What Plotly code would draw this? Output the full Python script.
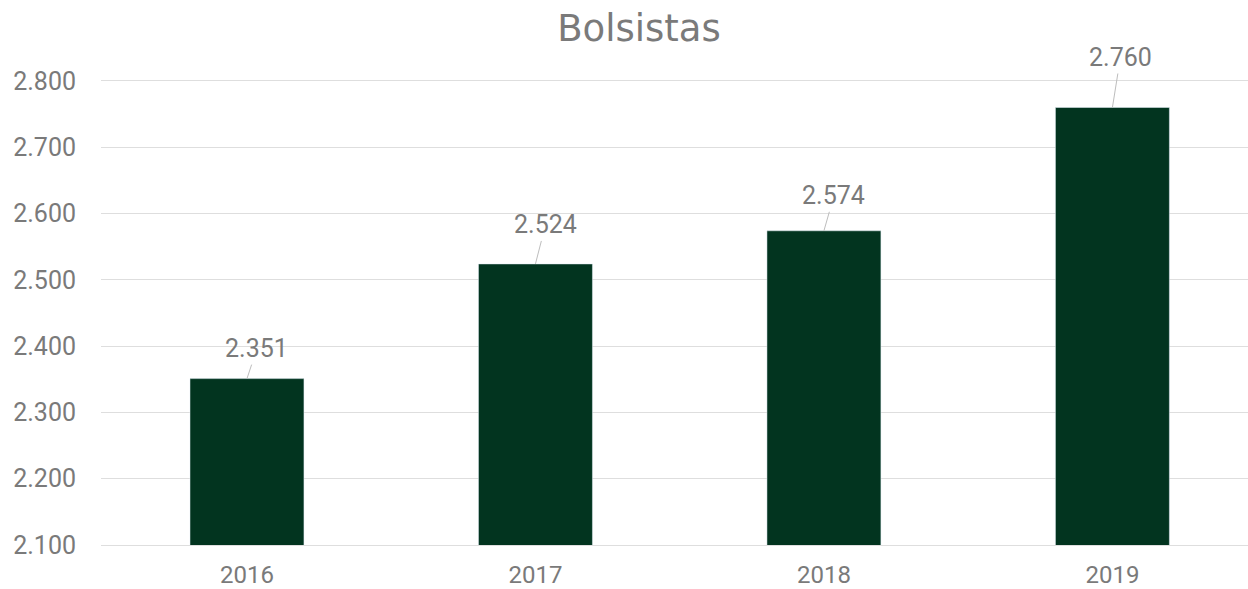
import plotly.graph_objects as go

years = ["2016", "2017", "2018", "2019"]
bolsistas = [2351, 2524, 2574, 2760]
y_ticks = [2100, 2200, 2300, 2400, 2500, 2600, 2700, 2800]
y_tick_text = ["2.100", "2.200", "2.300", "2.400", "2.500", "2.600", "2.700", "2.800"]

label_dx = [10, 10, 10, 8]
label_dy = [-30, -39, -35, -50]

BAR = "#02341f"
GREY = "#7a7a7a"
GRID = "#dedede"

fig = go.Figure(go.Bar(
    x=years, y=bolsistas, marker_color=BAR, width=0.395,
    hoverinfo="skip",
))

for i, (v, dx, dy) in enumerate(zip(bolsistas, label_dx, label_dy)):
    fig.add_annotation(
        x=i, y=v, xref="x", yref="y",
        text=f"{v:,}".replace(",", "."),
        showarrow=True, arrowhead=0, arrowwidth=1, arrowcolor="#bdbdbd",
        ax=dx, ay=dy, standoff=0,
        font=dict(family="Roboto", size=25, color=GREY),
    )

fig.update_layout(
    width=1248, height=589,
    margin=dict(l=101, r=0, t=81, b=44),
    paper_bgcolor="white", plot_bgcolor="white",
    showlegend=False,
    title=dict(text="Bolsistas", x=0.512, xanchor="center", y=0.952, yanchor="middle",
               font=dict(family="DejaVu Sans", size=37, color=GREY)),
    font=dict(family="Roboto", size=25, color=GREY),
    xaxis=dict(type="category", range=[-0.506, 3.47], showgrid=False, automargin=False,
               showline=True, linecolor=GRID, linewidth=1, mirror=True,
               ticks="", ticklabelstandoff=8, tickfont=dict(size=24, color=GREY)),
    yaxis=dict(range=[2100, 2800], tickvals=y_ticks, ticktext=y_tick_text, automargin=False,
               showgrid=True, gridcolor=GRID, gridwidth=1, zeroline=False,
               showline=False, ticks="", ticklabelstandoff=24,
               tickfont=dict(size=25, color=GREY)),
)

fig.write_html("out.html", config={"displayModeBar": False},
               post_script="document.body.style.margin='0';document.body.style.overflow='hidden';")
